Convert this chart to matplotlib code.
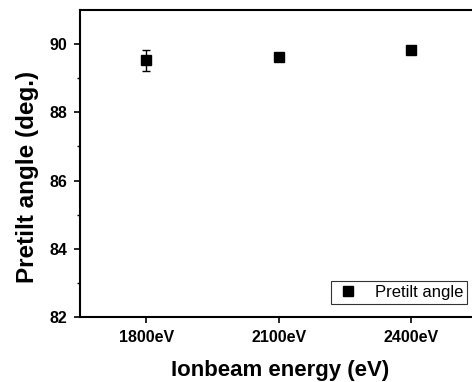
import matplotlib.pyplot as plt

# Pretilt angle vs ion beam energy
energy = [1800, 2100, 2400]
tick_labels = ['1800eV', '2100eV', '2400eV']
angle = [89.52, 89.62, 89.84]
angle_err = [0.3, 0.0, 0.0]

plt.rcParams['font.family'] = ['Liberation Sans', 'DejaVu Sans']

fig = plt.figure(figsize=(4.72, 3.82), dpi=100)
ax = fig.add_axes([80 / 472, 65 / 382, 1 - 80 / 472, 307 / 382])

# error bars separately so the legend shows only the square marker
ax.errorbar(energy, angle, yerr=angle_err, fmt='none', ecolor='black',
            capsize=3, elinewidth=1, capthick=1)
ax.plot(energy, angle, 's', color='black', markersize=6.5,
        label='Pretilt angle')

ax.set_xlim(1650, 2538)
ax.set_ylim(82, 91)
ax.set_xticks(energy)
ax.set_xticklabels(tick_labels)
ax.set_yticks([82, 84, 86, 88, 90])
ax.set_yticks([83, 85, 87, 89], minor=True)

for lab in ax.get_xticklabels() + ax.get_yticklabels():
    lab.set_fontweight('bold')
    lab.set_fontsize(11.5)

ax.tick_params(which='major', direction='out', length=4, width=1.2, pad=5)
ax.tick_params(which='minor', direction='out', length=2, width=1)
ax.spines['right'].set_visible(False)
for s in ['left', 'bottom', 'top']:
    ax.spines[s].set_linewidth(1.5)

ax.set_xlabel('Ionbeam energy (eV)', fontsize=16, fontweight='bold')
ax.set_ylabel('Pretilt angle (deg.)', fontsize=17.5, fontweight='bold')
ax.xaxis.set_label_coords(0.51, -0.14)
ax.yaxis.set_label_coords(-0.104, 0.455)

leg = ax.legend(loc='lower right', fontsize=12, frameon=True, fancybox=False,
                edgecolor='black', borderpad=0.25, handletextpad=0.8,
                handlelength=1.6, borderaxespad=0,
                bbox_to_anchor=(0.988, 0.042))
leg.get_frame().set_linewidth(0.8)

fig.savefig('out.png', dpi=100)
